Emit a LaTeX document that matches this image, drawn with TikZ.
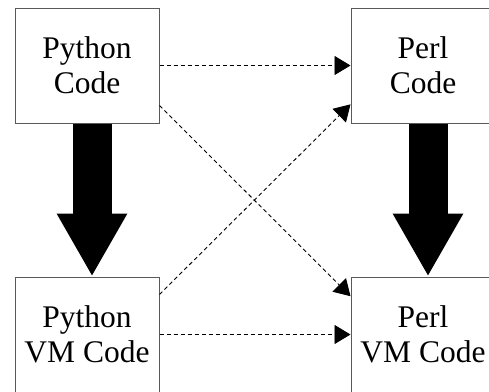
\documentclass[tikz,border=0pt]{standalone}
\usepackage{fontspec}
\setmainfont{Liberation Serif}
\usetikzlibrary{arrows.meta,calc}
\begin{document}
\begin{tikzpicture}[x=1pt,y=-1pt,
  box/.style={draw=black!65,line width=1pt,fill=white,minimum width=144pt,minimum height=115pt,
    inner sep=0pt,align=center,font=\fontsize{31.5}{35}\selectfont},
  big/.style={line width=39pt,line cap=butt,-{Triangle[length=63pt,width=66pt]}},
  dasharrow/.style={line width=0.9pt,dash pattern=on 4pt off 3pt,-{Triangle[length=16pt,width=19pt]}}]
\useasboundingbox (0,0) rectangle (489,391);
\fill[white] (0,0) rectangle (489,391);
\node[box] (tl) at (87,65.5) {Python\\Code};
\node[box] (tr) at (423,65.5) {Perl\\Code};
\node[box] (bl) at (87,334.5) {Python\\VM Code};
\node[box] (br) at (423,334.5) {Perl\\VM Code};
\draw[big] ([xshift=5pt]tl.south) -- ([xshift=5pt]bl.north);
\draw[big] ([xshift=5pt]tr.south) -- ([xshift=5pt]br.north);
\draw[dasharrow] (tl.east) -- (tr.west);
\draw[dasharrow] (bl.east) -- (br.west);
\draw[dasharrow] ($(tl.east)!0.69!(tl.south east)$) -- ($(br.west)!0.66!(br.north west)$);
\draw[dasharrow] ($(bl.east)!0.69!(bl.north east)$) -- ($(tr.west)!0.67!(tr.south west)$);
\end{tikzpicture}
\end{document}
